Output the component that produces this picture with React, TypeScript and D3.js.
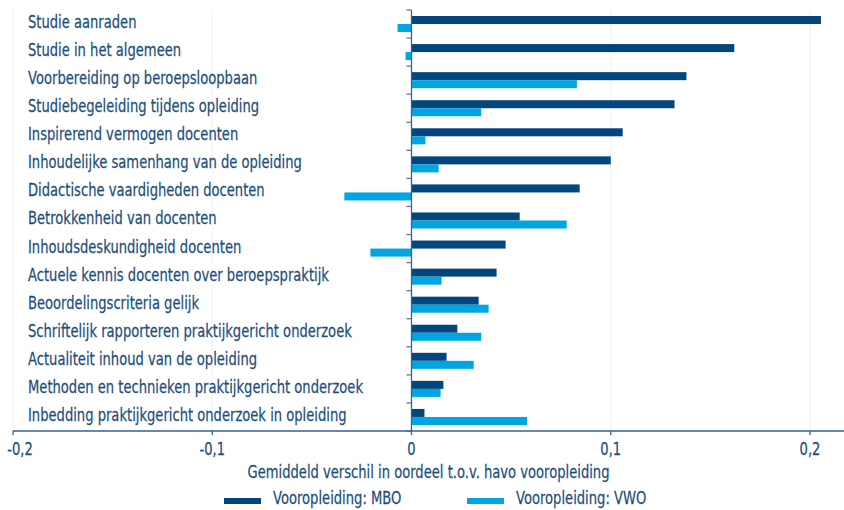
import React from 'react';
import * as d3 from 'd3';

// Horizontal grouped bars: MBO vs VWO, difference in rating relative to havo.

const categories = [
  'Studie aanraden',
  'Studie in het algemeen',
  'Voorbereiding op beroepsloopbaan',
  'Studiebegeleiding tijdens opleiding',
  'Inspirerend vermogen docenten',
  'Inhoudelijke samenhang van de opleiding',
  'Didactische vaardigheden docenten',
  'Betrokkenheid van docenten',
  'Inhoudsdeskundigheid docenten',
  'Actuele kennis docenten over beroepspraktijk',
  'Beoordelingscriteria gelijk',
  'Schriftelijk rapporteren praktijkgericht onderzoek',
  'Actualiteit inhoud van de opleiding',
  'Methoden en technieken praktijkgericht onderzoek',
  'Inbedding praktijkgericht onderzoek in opleiding',
];

const mboValues = [
  0.2055, 0.162, 0.138, 0.132, 0.106, 0.1, 0.0844, 0.0543, 0.0472, 0.0427, 0.0337, 0.023,
  0.0176, 0.016, 0.0065,
];
const vwoValues = [
  -0.007, -0.003, 0.083, 0.035, 0.007, 0.0136, -0.0337, 0.0779, -0.0206, 0.0151, 0.0387,
  0.035, 0.0312, 0.0146, 0.058,
];

const xTicks = [-0.2, -0.1, 0, 0.1, 0.2];
const series = ['Vooropleiding: MBO', 'Vooropleiding: VWO'];

const MBO = '#03467e';
const VWO = '#00a6e2';
const TEXT = '#1d4e7b';
const AXIS = '#35628f';
const FONT = '"DejaVu Sans", sans-serif';
const SQUEEZE = 0.75; // no condensed font available, narrow the glyphs instead

function NText({
  x,
  y,
  anchor = 'start',
  children,
}: {
  x: number;
  y: number;
  anchor?: 'start' | 'middle' | 'end';
  children: React.ReactNode;
}) {
  return (
    <text
      transform={`translate(${x},${y}) scale(${SQUEEZE},1)`}
      textAnchor={anchor}
      fontSize={17.5}
      fill={TEXT}
      stroke={TEXT}
      strokeWidth={0.25}
    >
      {children}
    </text>
  );
}

export default function App() {
  const width = 844;
  const height = 510;
  const top = 10;
  const bottom = 431;

  const x = d3.scaleLinear().domain([-0.2, 0.2]).range([13, 810]);
  const y = d3.scaleBand<string>().domain(categories).range([top, bottom]);
  const inner = d3
    .scaleBand<string>()
    .domain(['mbo', 'vwo'])
    .range([0, y.bandwidth()])
    .paddingOuter(0.75)
    .paddingInner(0);

  const fmt = (v: number) => (v === 0 ? '0' : d3.format('.1f')(v).replace('.', ',').replace('−', '-'));

  const bar = (v: number) => ({ x: Math.min(x(0), x(v)), w: Math.abs(x(v) - x(0)) });

  return (
    <svg width={width} height={height} style={{ position: 'absolute', left: 0, top: 0 }} fontFamily={FONT}>
      <rect width={width} height={height} fill="#fff" />
      {xTicks
        .filter((t) => t !== 0)
        .map((t) => (
          <line key={t} x1={x(t)} x2={x(t)} y1={top} y2={bottom} stroke="#eef0f5" strokeWidth={1} />
        ))}
      {categories.map((c, i) => {
        const y0 = y(c) ?? 0;
        const m = bar(mboValues[i]);
        const v = bar(vwoValues[i]);
        return (
          <g key={c}>
            <rect x={m.x} y={y0 + (inner('mbo') ?? 0)} width={m.w} height={inner.bandwidth()} fill={MBO} />
            <rect x={v.x} y={y0 + (inner('vwo') ?? 0)} width={v.w} height={inner.bandwidth()} fill={VWO} />
            <NText x={28} y={y0 + 18}>
              {c}
            </NText>
          </g>
        );
      })}
      {/* y axis at zero */}
      <line x1={x(0)} x2={x(0)} y1={top} y2={bottom} stroke={AXIS} strokeWidth={1.3} />
      {d3.range(categories.length + 1).map((i) => {
        const yy = top + i * y.step();
        return <line key={i} x1={x(0) - 5} x2={x(0)} y1={yy} y2={yy} stroke="#5a7a9c" strokeWidth={1.3} />;
      })}
      {/* x axis */}
      <line x1={13} x2={844} y1={bottom} y2={bottom} stroke={AXIS} strokeWidth={1.3} />
      {xTicks.map((t) => (
        <g key={t}>
          <line x1={x(t)} x2={x(t)} y1={bottom} y2={bottom + 4} stroke={AXIS} strokeWidth={1.3} />
          <NText x={Math.max(x(t), 20)} y={455} anchor="middle">
            {fmt(t)}
          </NText>
        </g>
      ))}
      <NText x={(13 + 844) / 2} y={478} anchor="middle">
        Gemiddeld verschil in oordeel t.o.v. havo vooropleiding
      </NText>
      {/* legend */}
      {series.map((s, i) => {
        const lx = i === 0 ? 224 : 467;
        return (
          <g key={s}>
            <rect x={lx} y={498} width={37} height={6} fill={i === 0 ? MBO : VWO} />
            <NText x={lx + 49} y={504}>
              {s}
            </NText>
          </g>
        );
      })}
    </svg>
  );
}
